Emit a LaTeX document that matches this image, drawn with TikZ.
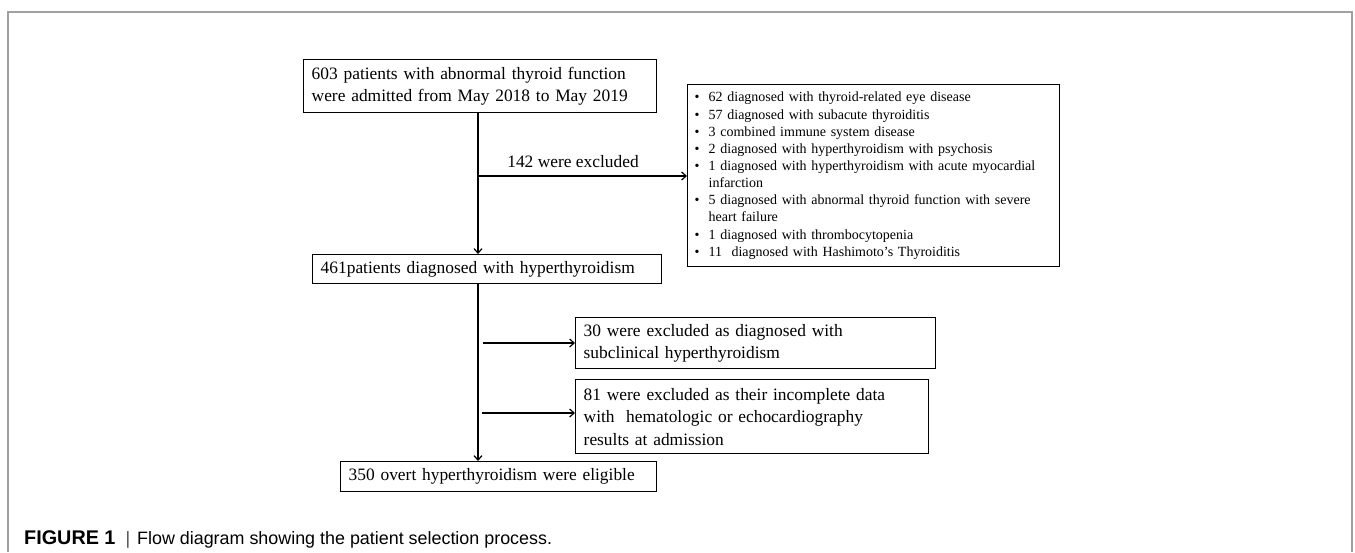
\documentclass[tikz,border=0pt]{standalone}
\usepackage{fontspec}
\setmainfont{Liberation Serif}
\newfontfamily\capfont{Liberation Sans}
\usetikzlibrary{arrows.meta}
\definecolor{framegray}{HTML}{A0A0A0}
\begin{document}
\begin{tikzpicture}[x=1pt,y=-1pt,
  flowbox/.style={draw, line width=1.4pt, anchor=north west, align=left,
    inner xsep=8pt, inner ysep=0pt, font=\fontsize{17.4}{22.5}\selectfont},
  listbox/.style={draw, line width=1.4pt, anchor=north west, align=left,
    inner xsep=7pt, inner ysep=0pt, font=\fontsize{14}{17.15}\selectfont},
  conn/.style={line width=1.3pt},
  arr/.style={conn, -{Straight Barb[length=4.5pt,width=8pt,line width=1.2pt]}}
]
\useasboundingbox (0,0) rectangle (1355,552);
\draw[framegray, line width=1.5pt] (8,552) -- (8,12) -- (1352,12) -- (1352,552);

\node[flowbox, text width=337pt, minimum height=53pt] (b1) at (303,59)
  {603 patients with abnormal thyroid function\\were admitted from May 2018 to May 2019};
\node[flowbox, text width=333pt, minimum height=29pt] (b2) at (312,254)
  {461patients diagnosed with hyperthyroidism};
\node[flowbox, text width=344pt, minimum height=51pt] (b3) at (575,317)
  {30 were excluded as diagnosed with\\subclinical hyperthyroidism};
\node[flowbox, text width=337pt, minimum height=74pt] (b4) at (575,379)
  {81 were excluded as their incomplete data\\with~ hematologic or echocardiography\\results at admission};
\node[flowbox, text width=300pt, minimum height=30pt] (b5) at (340,461)
  {\mbox{350 overt hyperthyroidism were eligible}};
\node[listbox, text width=358pt, minimum height=182pt] (lst) at (687,84)
  {\makebox[14pt][l]{\textbullet}62 diagnosed with thyroid-related eye disease\\
   \makebox[14pt][l]{\textbullet}57 diagnosed with subacute thyroiditis\\
   \makebox[14pt][l]{\textbullet}3 combined immune system disease\\
   \makebox[14pt][l]{\textbullet}2 diagnosed with hyperthyroidism with psychosis\\
   \makebox[14pt][l]{\textbullet}1 diagnosed with hyperthyroidism with acute myocardial\\
   \hspace*{14pt}infarction\\
   \makebox[14pt][l]{\textbullet}5 diagnosed with abnormal thyroid function with severe\\
   \hspace*{14pt}heart failure\\
   \makebox[14pt][l]{\textbullet}1 diagnosed with thrombocytopenia\\
   \makebox[14pt][l]{\textbullet}11~ diagnosed with Hashimoto's Thyroiditis};

\node[font=\fontsize{17.4}{22}\selectfont] (lab) at (573,162) {142 were excluded};

\coordinate (v1) at (478,176);
\coordinate (v2) at (478,343);
\coordinate (v3) at (478,413);
\coordinate (s2) at (483,343);
\coordinate (s3) at (482,413);

\draw[arr] (b1.south -| v1) -- (b2.north -| v1);
\draw[arr] (v1) -- (lst.west |- v1);
\draw[arr] (b2.south -| v2) -- (b5.north -| v2);
\draw[arr] (s2) -- (b3.west |- s2);
\draw[arr] (s3) -- (b4.west |- s3);

\node[anchor=base west, inner sep=0pt, font=\capfont\fontsize{17.9}{20}\selectfont] (cap) at (24,544)
  {{\fontsize{19.8}{20}\selectfont\textbf{FIGURE 1}}\hspace{10pt}{\color{black!70}|}\hspace{7pt}Flow diagram showing the patient selection process.};
\end{tikzpicture}
\end{document}
